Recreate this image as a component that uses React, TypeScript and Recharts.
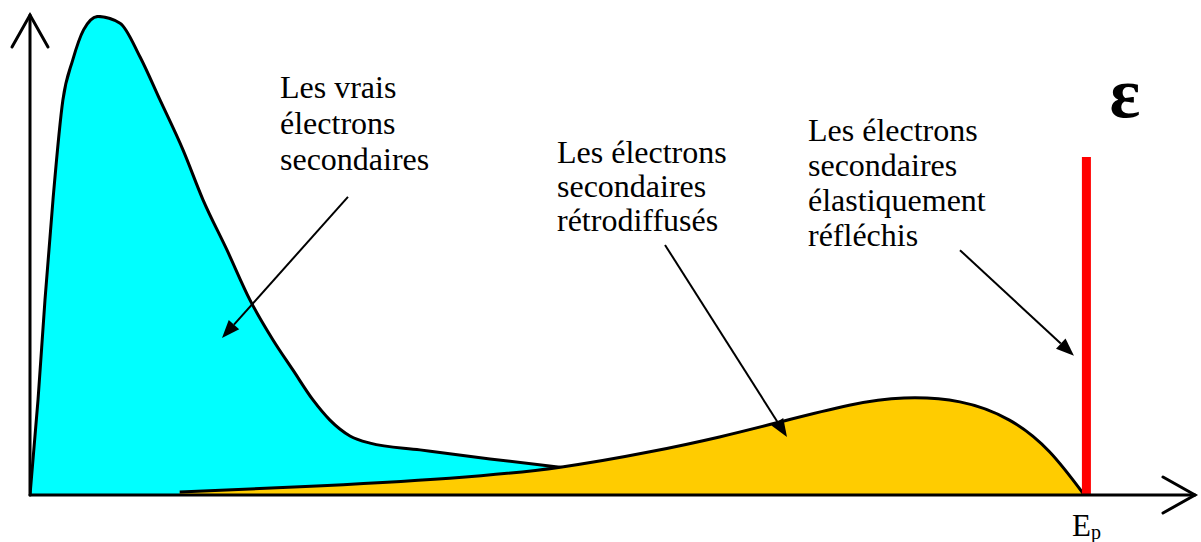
import React from "react";
import {
  ComposedChart,
  Area,
  Line,
  XAxis,
  YAxis,
  ReferenceLine,
} from "recharts";

// energy (0 = origin, 1000 = Ep) vs. relative electron yield (0-100)
const deltaEnergy = [0, 7.6, 14.2, 21.8, 31.2, 40.5, 50.8, 64.5, 85.4, 104.3, 123.3, 145.1, 164.1, 186.9, 208.7, 230.5, 249.5, 268.4, 284.5, 303.5, 322.5, 369.9, 436.3, 502.7, 588, 692, 806];
const deltaYield = [0, 19.8, 40.6, 61.5, 82.3, 90.6, 96.9, 99.7, 98.3, 91.3, 82.3, 71.9, 61.5, 51.0, 40.6, 32.3, 26.0, 19.8, 15.6, 12.3, 10.8, 9.4, 7.5, 5.8, 3.8, 1.9, 0.6];

const etaEnergy = [142, 256, 398, 503, 588, 654, 711, 777, 829, 882, 929, 967, 1000];
const etaYield = [0.6, 1.7, 3.5, 5.8, 9.0, 12.1, 15.2, 18.7, 20.2, 19.4, 15.6, 9.0, 0];

const epsilonEnergy = [1002, 1002];
const epsilonYield = [0, 70.4];

const labelVrais = ["Les vrais", "électrons", "secondaires"];
const labelRetro = ["Les électrons", "secondaires", "rétrodiffusés"];
const labelElast = ["Les électrons", "secondaires", "élastiquement", "réfléchis"];

const deltaData = deltaEnergy.map((e, i) => ({ e, v: deltaYield[i] }));
const etaData = etaEnergy.map((e, i) => ({ e, v: etaYield[i] }));
const epsilonData = epsilonEnergy.map((e, i) => ({ e, v: epsilonYield[i] }));

const FONT = "Liberation Serif";

// line with filled arrow head at the end
const PointerArrow = (props: any) => {
  const { x1, y1, x2, y2 } = props;
  const a = Math.atan2(y2 - y1, x2 - x1);
  const len = 18;
  const w = 7;
  const bx = x2 - len * Math.cos(a);
  const by = y2 - len * Math.sin(a);
  const px = -Math.sin(a) * w;
  const py = Math.cos(a) * w;
  return (
    <g>
      <line x1={x1} y1={y1} x2={bx} y2={by} stroke="#000" strokeWidth={2} />
      <polygon
        points={`${x2},${y2} ${bx + px},${by + py} ${bx - px},${by - py}`}
        fill="#000"
      />
    </g>
  );
};

// axis line with open arrow head
const AxisArrow = (props: any) => {
  const { x1, y1, x2, y2 } = props;
  const a = Math.atan2(y2 - y1, x2 - x1);
  const len = 32;
  const w = 18;
  const bx = x2 - len * Math.cos(a);
  const by = y2 - len * Math.sin(a);
  const px = -Math.sin(a) * w;
  const py = Math.cos(a) * w;
  return (
    <g stroke="#000" strokeWidth={3} fill="none" strokeLinecap="round">
      <line x1={x1} y1={y1} x2={x2} y2={y2} />
      <polyline points={`${bx + px},${by + py} ${x2},${y2} ${bx - px},${by - py}`} />
    </g>
  );
};

const Lines = ({ x, y, lines, gap }: { x: number; y: number; lines: string[]; gap: number }) => (
  <text x={x} y={y} fill="#000" fontFamily={FONT} fontSize={32}>
    {lines.map((l, i) => (
      <tspan key={i} x={x} dy={i === 0 ? 0 : gap}>
        {l}
      </tspan>
    ))}
  </text>
);

export default function App() {
  return (
    <div style={{ position: "absolute", left: 0, top: 0, width: 1201, height: 542, background: "#fff" }}>
      <ComposedChart
        width={1201}
        height={542}
        margin={{ top: 15, right: 6, left: 30, bottom: 47 }}
      >
        <XAxis type="number" dataKey="e" domain={[0, 1105]} hide allowDataOverflow />
        <YAxis type="number" domain={[0, 100]} hide allowDataOverflow />

        <Area
          data={deltaData}
          dataKey="v"
          type="monotone"
          fill="#00FFFF"
          fillOpacity={1}
          stroke="#000"
          strokeWidth={3}
          isAnimationActive={false}
        />
        <Area
          data={etaData}
          dataKey="v"
          type="natural"
          fill="#FFCC00"
          fillOpacity={1}
          stroke="#000"
          strokeWidth={3}
          isAnimationActive={false}
        />
        <Line
          data={epsilonData}
          dataKey="v"
          stroke="#FF0000"
          strokeWidth={9}
          dot={false}
          isAnimationActive={false}
        />

        <ReferenceLine segment={[{ x: 0, y: 0 }, { x: 1105, y: 0 }]} shape={AxisArrow} ifOverflow="visible" />
        <ReferenceLine segment={[{ x: 0, y: 0 }, { x: 0, y: 100 }]} shape={AxisArrow} ifOverflow="visible" />

        <ReferenceLine segment={[{ x: 301.6, y: 62.1 }, { x: 182.1, y: 32.7 }]} shape={PointerArrow} />
        <ReferenceLine segment={[{ x: 602.3, y: 52.1 }, { x: 718, y: 12.1 }]} shape={PointerArrow} />
        <ReferenceLine segment={[{ x: 882.1, y: 51 }, { x: 990.2, y: 29 }]} shape={PointerArrow} />

        <Lines x={280} y={98} lines={labelVrais} gap={36} />
        <Lines x={557} y={163} lines={labelRetro} gap={34} />
        <Lines x={808} y={141} lines={labelElast} gap={35} />

        <text x={131} y={362} textAnchor="middle" fontFamily={FONT} fontSize={60} fill="#000">δ</text>
        <text x={886} y={455} textAnchor="middle" fontFamily={FONT} fontSize={58} fill="#000">η</text>
        <text x={1125} y={117} textAnchor="middle" fontFamily={FONT} fontSize={72} fontWeight="bold" fill="#000">ε</text>
        <text x={1072} y={536} fontFamily={FONT} fontSize={31} fill="#000">
          E<tspan fontSize={20} dy={3}>p</tspan>
        </text>
      </ComposedChart>
    </div>
  );
}
